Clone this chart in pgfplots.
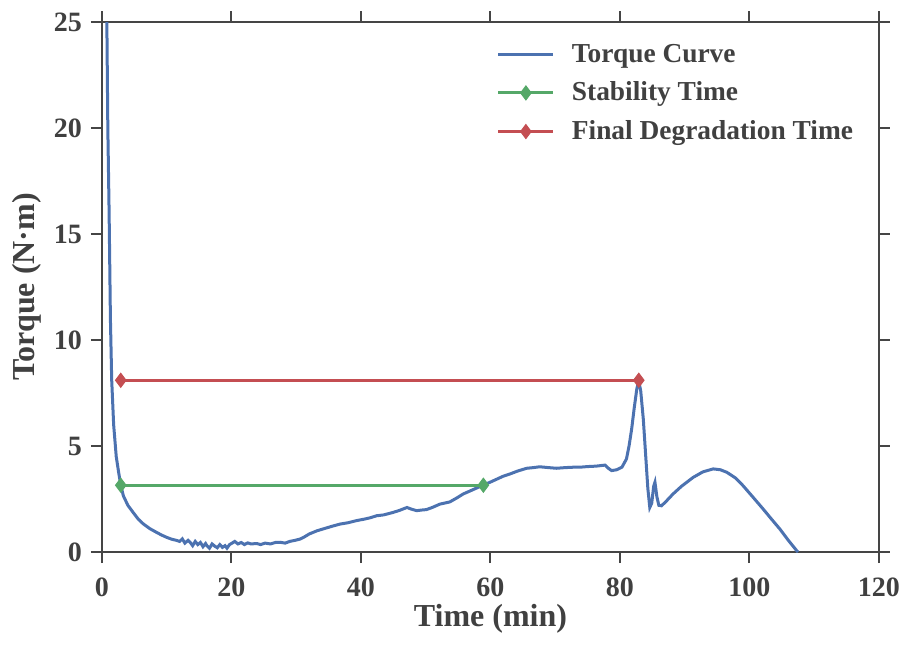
\documentclass[border=0pt]{standalone}
\usepackage{fontspec}
\setmainfont{Liberation Serif}
\usepackage{pgfplots}
\pgfplotsset{compat=1.18}
\definecolor{cblue}{HTML}{4C72B0}
\definecolor{cgreen}{HTML}{55A868}
\definecolor{cred}{HTML}{C44E52}
\definecolor{txt}{HTML}{404040}
\definecolor{axc}{HTML}{454545}
\begin{document}
\begin{tikzpicture}
\begin{axis}[
  name=ax,
  scale only axis,
  width=388.5pt, height=265pt,
  xmin=0, xmax=120, ymin=0, ymax=25,
  xtick={0,20,40,60,80,100,120},
  ytick={0,5,10,15,20,25},
  minor tick num=0,
  tick align=outside,
  major tick length=5.5pt,
  major tick style={draw=axc, line width=1pt},
  axis line style={draw=axc, line width=1pt},
  /pgf/number format/assume math mode=true,
  tick label style={font=\bfseries\fontsize{14}{16}\selectfont, text=txt},
  xticklabel style={yshift=-4pt},
  yticklabel style={xshift=-1pt},
  xlabel={Time (min)},
  ylabel={Torque (N·m)},
  label style={font=\bfseries\fontsize{16}{18}\selectfont, text=txt},
  xlabel style={at={(axis description cs:0.5,-0.126)}, anchor=center},
  ylabel style={at={(axis description cs:-0.0965,0.5)}, anchor=center, rotate=0},
  legend image code/.code={\draw[mark repeat=2,mark phase=2,#1] plot coordinates {(0pt,0pt)(13.75pt,0pt)(27.5pt,0pt)};},
  legend style={draw=none, fill=none, at={(axis description cs:0.5,0.974)}, anchor=north west,
    font=\bfseries\fontsize{13.7}{16}\selectfont, text=txt, row sep=4.3pt, column sep=6.5pt},
  legend cell align=left,
]
\addplot[cblue, line width=1.5pt, mark=none] coordinates {
(0.72,26) (0.9,20) (1.1,16) (1.3,11) (1.5,8.1) (1.8,6.0) (2.2,4.5) (2.6,3.7) (2.9,3.15)
(3.3,2.65) (4.0,2.2) (4.8,1.87) (5.6,1.55) (6.4,1.32) (7.4,1.1) (8.4,0.93) (9.2,0.8)
(10,0.69) (10.8,0.6) (11.5,0.55) (12.0,0.5) (12.4,0.62) (12.8,0.42) (13.3,0.55) (13.6,0.46)
(14.0,0.3) (14.4,0.5) (14.8,0.35) (15.2,0.45) (15.6,0.25) (16.0,0.4) (16.2,0.3) (16.6,0.18)
(17.0,0.38) (17.4,0.28) (17.8,0.2) (18.2,0.35) (18.6,0.22) (19.0,0.3) (19.3,0.18) (19.7,0.35)
(20.1,0.42) (20.5,0.5) (21.0,0.38) (21.5,0.45) (22.0,0.35) (22.5,0.43) (23.0,0.38) (23.9,0.4)
(24.5,0.35) (25.2,0.42) (26.0,0.38) (26.8,0.45) (27.5,0.46) (28.3,0.42) (29.0,0.5) (29.8,0.55)
(30.6,0.61) (31.3,0.72) (32.0,0.85) (33.2,1.0) (34.5,1.12) (35.6,1.22) (36.8,1.32) (38.0,1.38)
(39.3,1.48) (40.5,1.55) (41.5,1.62) (42.4,1.71) (43.5,1.75) (45.0,1.87) (46.0,1.97) (47.1,2.1)
(47.8,2.02) (48.6,1.95) (49.4,1.98) (50.1,2.0) (51.0,2.1) (52.2,2.26) (53.7,2.36) (54.8,2.55)
(55.8,2.74) (57.0,2.9) (58.9,3.16) (60.0,3.3) (61,3.44) (62,3.58) (63,3.68) (64.2,3.82)
(65.6,3.95) (66.6,3.98) (67.6,4.02) (69.0,3.98) (70.2,3.95) (71.5,3.98) (72.8,4.0) (73.8,4.0)
(75.0,4.03) (76.3,4.05) (77.7,4.1) (78.2,3.95) (78.7,3.84) (79.5,3.88) (80.3,4.0) (81.0,4.39)
(81.4,5.0) (81.8,5.8) (82.2,6.8) (82.6,7.7) (82.9,8.05) (83.2,7.6) (83.6,6.27) (84.0,4.4)
(84.3,3.0) (84.6,2.1) (84.9,2.3) (85.2,3.1) (85.4,3.29) (85.7,2.6) (86.0,2.2) (86.4,2.18)
(87.0,2.35) (88.2,2.74) (89.5,3.1) (91.3,3.52) (92.8,3.78) (94.4,3.92) (95.5,3.88) (96.5,3.76)
(97.8,3.5) (99.0,3.13) (100.5,2.6) (102.1,2.03) (103.4,1.55) (104.7,1.08) (106.0,0.55)
(107.3,0.06) (107.5,0)
};
\addlegendentry{Torque Curve}
\addplot[cgreen, line width=1.5pt, mark=diamond*, mark size=3.5pt, mark options={solid, fill=cgreen, draw=cgreen, line width=0.5pt}] coordinates {(2.9,3.15) (58.9,3.15)};
\addlegendentry{Stability Time}
\addplot[cred, line width=1.5pt, mark=diamond*, mark size=3.5pt, mark options={solid, fill=cred, draw=cred, line width=0.5pt}] coordinates {(2.9,8.1) (82.9,8.1)};
\addlegendentry{Final Degradation Time}
\end{axis}
\pgfresetboundingbox
\path ([shift={(-51pt,-46pt)}]ax.south west) rectangle ([shift={(13.5pt,11pt)}]ax.north east);
\end{tikzpicture}
\end{document}
